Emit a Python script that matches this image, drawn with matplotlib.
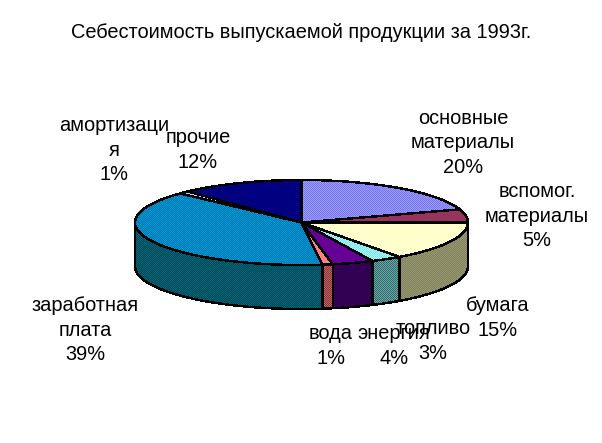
# cost structure pie, drawn as a tilted 3d disc with dithered fills
import numpy as np
import matplotlib
matplotlib.use('Agg')
import matplotlib.pyplot as plt
from matplotlib.colors import to_rgb
from matplotlib.patches import Polygon

plt.rcParams['font.family'] = ['Liberation Sans', 'DejaVu Sans']

title = 'Себестоимость выпускаемой продукции за 1993г.'
labels = ['основные\nматериалы\n20%', 'вспомог.\nматериалы\n5%', 'бумага\n15%', 'топливо\n3%',
          'энергия\n4%', 'вода\n1%', 'заработная\nплата\n39%', 'амортизаци\nя\n1%', 'прочие\n12%']
values = [20, 5, 15, 3, 4, 1, 39, 1, 12]
# each fill is a checker of two colours
top_a = ['#7777ee', '#993366', '#ffffcc', '#99ffff', '#660099', '#ff8080', '#0099cc', '#ccccff', '#000080']
top_b = ['#9999ff', '#993355', '#ffffcc', '#88dddd', '#660099', '#ff8080', '#0077bb', '#ccccff', '#000080']
side_a = ['#333380', '#4d1933', '#999966', '#336666', '#330066', '#993333', '#006666', '#666680', '#000040']
side_b = ['#333380', '#4d1933', '#808066', '#66aaaa', '#330044', '#b06666', '#004466', '#666680', '#000040']
label_pos = [(463, 143), (537, 216), (498, 318), (433, 341),
             (394, 346), (331, 346), (85, 330), (114, 150), (198, 150)]

cx, cy, rx, ry, depth = 301.5, 222.5, 166.5, 42.5, 44

fig = plt.figure(figsize=(6.02, 4.43), dpi=100)
ax = fig.add_axes([0, 0, 1, 1])

yy, xx = np.mgrid[0:443, 0:602]
checker = (xx + yy) % 2 == 1
order = 1


def rim(a0, a1):
    t = np.radians(np.linspace(a0, a1, 100))
    return cx + rx * np.sin(t), cy - ry * np.cos(t)


def dithered(pts, col_a, col_b):
    # base colour, then the second colour on every other pixel, then the outline
    global order
    base = Polygon(pts, fc=col_a, ec='none', antialiased=False, zorder=order)
    ax.add_patch(base)
    rgba = np.zeros((443, 602, 4))
    rgba[..., :3] = to_rgb(col_b)
    rgba[..., 3] = checker
    im = ax.imshow(rgba, extent=(0, 602, 443, 0), interpolation='nearest', aspect='auto', zorder=order + 1)
    im.set_clip_path(base)
    ax.add_patch(Polygon(pts, fc='none', ec='black', lw=1, antialiased=False, zorder=order + 2))
    order += 3


angles = np.concatenate([[0], np.cumsum(values) * 3.6])

# front wall first, only the part between 90 and 270 degrees shows
for i in range(len(values)):
    a0, a1 = max(angles[i], 90), min(angles[i + 1], 270)
    if a1 <= a0:
        continue
    x, y = rim(a0, a1)
    dithered(np.r_[np.c_[x, y], np.c_[x[::-1], y[::-1] + depth]], side_a[i], side_b[i])

# top of the disc
for i in range(len(values)):
    x, y = rim(angles[i], angles[i + 1])
    dithered(np.r_[[[cx, cy]], np.c_[x, y]], top_a[i], top_b[i])

ax.set_xlim(0, 602)
ax.set_ylim(443, 0)
ax.axis('off')

ax.text(301, 32, title, ha='center', va='center', fontsize=14.4, zorder=100)
for lab, (px, py) in zip(labels, label_pos):
    ax.text(px, py, lab, ha='center', va='center', fontsize=14.4, linespacing=1.38, zorder=100)

fig.savefig('out.png', dpi=100)
